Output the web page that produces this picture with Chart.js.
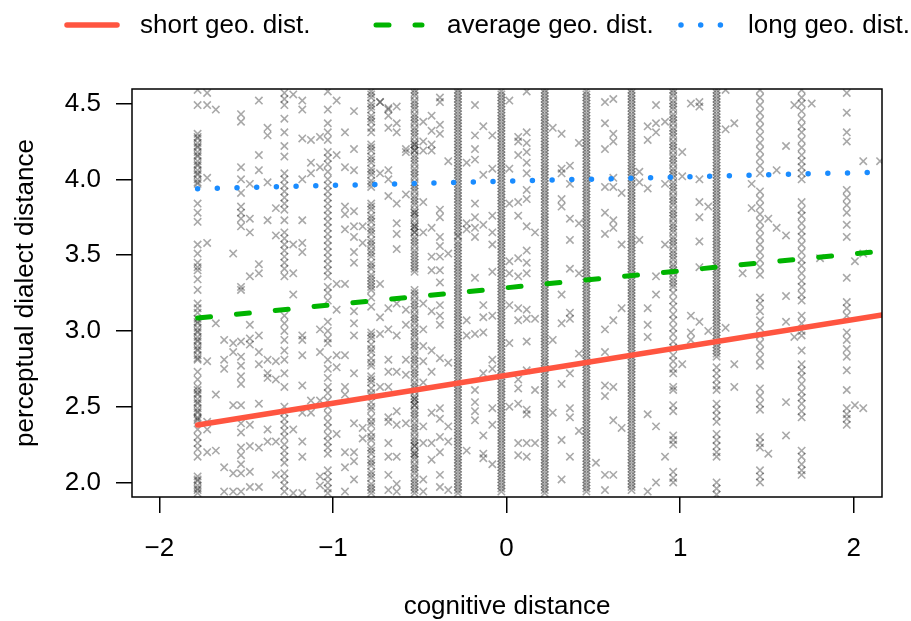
<!DOCTYPE html>
<html>
<head>
<meta charset="utf-8">
<script src="https://cdn.jsdelivr.net/npm/chart.js@4.4.1/dist/chart.umd.min.js"></script>
<style>
  html, body { margin: 0; padding: 0; background: #fff; }
  #wrap { width: 911px; height: 621px; }
</style>
</head>
<body>
<div id="wrap"><canvas id="scatterChart" width="911" height="621"></canvas></div>
<script>
// data
var seriesNames = ["short geo. dist.", "average geo. dist.", "long geo. dist."];
var xTicks = [-2, -1, 0, 1, 2];
var xTickLabels = ["\u22122", "\u22121", "0", "1", "2"];
var yTicks = [2.0, 2.5, 3.0, 3.5, 4.0, 4.5];
var yTickLabels = ["2.0", "2.5", "3.0", "3.5", "4.0", "4.5"];

// fitted lines, start and end of each
var lineX = [-1.78, 2.163];
var shortGeo = [2.379, 3.105];
var averageGeo = [3.085, 3.527];
var longGeo = [3.938, 4.048];

// observations stacked at the discrete cognitive distance values
var columnX = [-1.78, -1.53, -1.28, -1.03, -0.78, -0.53, -0.28, -0.03, 0.22, 0.46, 0.72, 0.96, 1.21, 1.46, 1.70, 1.96];
var columnY = [
  [4.59, 4.49, 4.30, 4.27, 4.24, 4.21, 4.18, 4.15, 4.12, 4.09, 4.06, 4.03, 4.00, 3.97, 3.84, 3.78, 3.72, 3.57, 3.51, 3.45, 3.42, 3.40, 3.34, 3.27, 3.18, 3.15, 3.12, 3.08, 3.05, 3.02, 2.99, 2.96, 2.93, 2.90, 2.87, 2.84, 2.81, 2.73, 2.68, 2.63, 2.61, 2.58, 2.55, 2.52, 2.49, 2.46, 2.43, 2.41, 2.35, 2.30, 2.26, 2.22, 2.17, 2.04, 2.01, 1.98, 1.95, 1.93],
  [4.43, 4.38, 4.08, 4.00, 3.91, 3.82, 3.78, 3.74, 3.69, 3.29, 3.27, 2.93, 2.83, 2.77, 2.70, 2.65, 2.51, 2.39, 2.33, 2.23, 2.18, 2.12, 2.06, 1.94],
  [4.57, 4.53, 4.49, 4.40, 4.31, 4.22, 4.15, 4.04, 4.00, 3.96, 3.92, 3.88, 3.84, 3.80, 3.73, 3.65, 3.61, 3.57, 3.53, 3.49, 3.45, 3.41, 3.36, 3.10, 3.05, 3.00, 2.94, 2.87, 2.81, 2.72, 2.63, 2.50, 2.46, 2.42, 2.38, 2.34, 2.30, 2.25, 2.21, 2.17, 2.13, 2.06, 2.02, 1.98, 1.94],
  [4.58, 4.46, 4.37, 4.31, 4.26, 4.18, 4.14, 4.10, 4.05, 4.00, 3.96, 3.92, 3.88, 3.84, 3.80, 3.76, 3.72, 3.68, 3.64, 3.60, 3.56, 3.52, 3.48, 3.44, 3.40, 3.36, 3.29, 3.25, 3.20, 3.06, 3.00, 2.95, 2.92, 2.81, 2.75, 2.69, 2.63, 2.59, 2.54, 2.50, 2.45, 2.40, 2.36, 2.31, 2.27, 2.23, 2.19, 2.08, 2.04, 2.00, 1.96, 1.93],
  [4.58, 4.54, 4.50, 4.46, 4.42, 4.38, 4.34, 4.31, 4.23, 4.19, 4.15, 4.11, 4.07, 4.03, 3.99, 3.95, 3.84, 3.80, 3.76, 3.72, 3.68, 3.64, 3.60, 3.56, 3.53, 3.49, 3.45, 3.41, 3.37, 3.33, 3.29, 3.27, 3.22, 3.16, 2.99, 2.95, 2.91, 2.86, 2.82, 2.77, 2.70, 2.66, 2.62, 2.57, 2.53, 2.48, 2.43, 2.38, 2.33, 2.28, 2.23, 2.19, 2.15, 2.11, 2.07, 2.03, 1.99, 1.95, 1.93],
  [4.59, 4.55, 4.50, 4.46, 4.41, 4.37, 4.32, 4.28, 4.23, 4.23, 4.19, 4.19, 4.14, 4.10, 4.05, 4.01, 3.96, 3.92, 3.87, 3.83, 3.78, 3.78, 3.74, 3.69, 3.69, 3.65, 3.65, 3.60, 3.56, 3.51, 3.47, 3.43, 3.39, 3.27, 3.23, 3.18, 3.14, 3.09, 3.05, 3.00, 2.96, 2.91, 2.87, 2.82, 2.78, 2.73, 2.69, 2.64, 2.60, 2.55, 2.55, 2.51, 2.51, 2.46, 2.42, 2.37, 2.33, 2.28, 2.24, 2.24, 2.19, 2.19, 2.15, 2.10, 2.06, 2.01, 1.97, 1.93],
  [4.59, 4.55, 4.51, 4.47, 4.45, 4.43, 4.39, 4.35, 4.31, 4.27, 4.25, 4.23, 4.19, 4.15, 4.11, 4.07, 4.03, 3.99, 3.95, 3.91, 3.87, 3.83, 3.79, 3.77, 3.75, 3.71, 3.67, 3.63, 3.62, 3.59, 3.55, 3.51, 3.47, 3.43, 3.41, 3.39, 3.35, 3.31, 3.27, 3.23, 3.21, 3.19, 3.15, 3.11, 3.07, 3.03, 2.99, 2.97, 2.95, 2.91, 2.87, 2.83, 2.79, 2.75, 2.71, 2.67, 2.65, 2.63, 2.59, 2.55, 2.51, 2.47, 2.45, 2.43, 2.39, 2.35, 2.31, 2.27, 2.25, 2.23, 2.19, 2.15, 2.11, 2.07, 2.05, 2.03, 1.99, 1.95, 1.93],
  [4.58, 4.54, 4.50, 4.46, 4.42, 4.38, 4.34, 4.30, 4.26, 4.22, 4.18, 4.14, 4.10, 4.06, 4.02, 3.98, 3.94, 3.90, 3.86, 3.82, 3.80, 3.78, 3.74, 3.70, 3.66, 3.62, 3.58, 3.54, 3.50, 3.46, 3.42, 3.38, 3.34, 3.30, 3.26, 3.22, 3.18, 3.14, 3.10, 3.06, 3.02, 2.98, 2.94, 2.90, 2.86, 2.82, 2.78, 2.74, 2.70, 2.66, 2.62, 2.58, 2.54, 2.50, 2.46, 2.42, 2.38, 2.34, 2.30, 2.26, 2.22, 2.18, 2.14, 2.10, 2.06, 2.02, 1.98, 1.94],
  [4.59, 4.55, 4.51, 4.47, 4.43, 4.39, 4.35, 4.33, 4.31, 4.27, 4.25, 4.23, 4.19, 4.17, 4.15, 4.11, 4.07, 4.03, 3.99, 3.95, 3.91, 3.87, 3.83, 3.79, 3.75, 3.71, 3.67, 3.63, 3.59, 3.55, 3.51, 3.49, 3.47, 3.43, 3.41, 3.39, 3.35, 3.33, 3.31, 3.27, 3.23, 3.19, 3.15, 3.11, 3.07, 3.03, 2.99, 2.95, 2.91, 2.87, 2.83, 2.79, 2.75, 2.71, 2.67, 2.63, 2.59, 2.55, 2.51, 2.47, 2.43, 2.39, 2.35, 2.31, 2.27, 2.23, 2.19, 2.15, 2.11, 2.07, 2.03, 1.99, 1.95],
  [4.58, 4.54, 4.50, 4.46, 4.42, 4.38, 4.34, 4.30, 4.26, 4.22, 4.18, 4.14, 4.10, 4.06, 4.02, 3.98, 3.94, 3.90, 3.86, 3.82, 3.78, 3.74, 3.70, 3.66, 3.62, 3.58, 3.54, 3.50, 3.46, 3.42, 3.38, 3.34, 3.30, 3.26, 3.22, 3.18, 3.14, 3.10, 3.06, 3.02, 2.98, 2.94, 2.90, 2.86, 2.82, 2.78, 2.74, 2.70, 2.66, 2.62, 2.58, 2.54, 2.50, 2.46, 2.42, 2.38, 2.34, 2.30, 2.26, 2.22, 2.18, 2.14, 2.10, 2.06, 2.02, 1.98, 1.94],
  [4.59, 4.55, 4.51, 4.47, 4.43, 4.39, 4.35, 4.31, 4.27, 4.23, 4.19, 4.15, 4.11, 4.07, 4.03, 3.99, 3.95, 3.91, 3.87, 3.83, 3.79, 3.75, 3.71, 3.67, 3.63, 3.59, 3.55, 3.51, 3.47, 3.43, 3.39, 3.35, 3.31, 3.27, 3.23, 3.19, 3.15, 3.11, 3.07, 3.03, 2.99, 2.95, 2.91, 2.87, 2.83, 2.79, 2.75, 2.71, 2.67, 2.63, 2.59, 2.55, 2.51, 2.47, 2.43, 2.39, 2.35, 2.31, 2.27, 2.23, 2.19, 2.15, 2.11, 2.07, 2.03, 1.99, 1.95],
  [4.59, 4.55, 4.50, 4.46, 4.41, 4.37, 4.32, 4.28, 4.23, 4.19, 4.14, 4.10, 4.05, 4.01, 3.96, 3.92, 3.87, 3.83, 3.78, 3.74, 3.69, 3.65, 3.60, 3.56, 3.51, 3.47, 3.42, 3.38, 3.33, 3.29, 3.25, 3.20, 3.16, 3.11, 3.07, 3.02, 2.98, 2.93, 2.89, 2.84, 2.80, 2.75, 2.72, 2.63, 2.61, 2.51, 2.47, 2.31, 2.28, 2.25, 2.07, 2.03, 2.00],
  [4.59, 4.55, 4.51, 4.47, 4.43, 4.39, 4.35, 4.31, 4.27, 4.25, 4.23, 4.19, 4.15, 4.13, 4.11, 4.07, 4.03, 3.99, 3.97, 3.95, 3.91, 3.89, 3.87, 3.83, 3.79, 3.75, 3.71, 3.67, 3.63, 3.59, 3.55, 3.51, 3.47, 3.43, 3.39, 3.35, 3.31, 3.27, 3.23, 3.19, 3.15, 3.11, 3.07, 3.03, 2.99, 2.95, 2.91, 2.87, 2.83, 2.76, 2.72, 2.68, 2.64, 2.61, 2.52, 2.48, 2.44, 2.40, 2.32, 2.28, 2.24, 2.20, 2.17, 2.00, 1.96, 1.92],
  [4.59, 4.54, 4.49, 4.44, 4.39, 4.34, 4.29, 4.24, 4.19, 4.14, 4.09, 4.04, 3.92, 3.87, 3.82, 3.77, 3.72, 3.67, 3.62, 3.57, 3.52, 3.47, 3.42, 3.37, 3.22, 3.18, 3.13, 3.07, 3.02, 2.97, 2.92, 2.87, 2.82, 2.77, 2.62, 2.57, 2.52, 2.48, 2.30, 2.26, 2.23, 2.08, 2.04, 2.00],
  [4.59, 4.54, 4.50, 4.45, 4.40, 4.35, 4.31, 4.26, 4.21, 4.16, 4.12, 4.08, 4.04, 4.00, 3.85, 3.80, 3.76, 3.71, 3.66, 3.62, 3.57, 3.52, 3.47, 3.43, 3.38, 3.33, 3.29, 3.24, 3.20, 3.10, 3.05, 3.00, 2.97, 2.87, 2.78, 2.74, 2.70, 2.65, 2.60, 2.56, 2.52, 2.47, 2.43, 2.21, 2.17, 2.12, 2.08, 2.05],
  [4.57, 4.44, 4.31, 4.25, 3.93, 3.88, 3.83, 3.78, 3.70, 3.62, 3.35, 3.19, 3.15, 3.10, 2.99, 2.94, 2.88, 2.83, 2.74, 2.61, 2.49, 2.45, 2.42, 2.38]
];

// further observations in the crowded columns, same order as columnX
var extraColumnY = [
  [4.28, 4.22, 4.16, 4.10, 4.04, 3.98, 3.06, 3.00, 2.94, 2.88, 2.82, 2.59, 2.53, 2.47, 2.42, 2.02, 1.96],
  [],
  [],
  [],
  [4.56, 4.48, 4.40, 4.21, 4.13, 4.05, 3.97, 3.82, 3.74, 3.66, 3.58, 3.51, 3.43, 3.35, 3.31, 2.97, 2.88, 2.79, 2.68, 2.59, 2.50, 2.40, 2.30, 2.21, 2.13, 2.05, 1.97],
  [4.57, 4.52, 4.48, 4.43, 4.39, 4.34, 4.30, 4.25, 4.21, 4.16, 4.12, 4.07, 4.03, 3.98, 3.94, 3.89, 3.85, 3.80, 3.76, 3.71, 3.67, 3.62, 3.58, 3.53, 3.49, 3.45, 3.41, 3.25, 3.20, 3.16, 3.11, 3.07, 3.02, 2.98, 2.93, 2.89, 2.84, 2.80, 2.75, 2.71, 2.66, 2.62, 2.57, 2.53, 2.48, 2.44, 2.39, 2.35, 2.30, 2.26, 2.21, 2.17, 2.12, 2.08, 2.03, 1.99, 1.95],
  [4.57, 4.53, 4.49, 4.41, 4.37, 4.33, 4.29, 4.21, 4.17, 4.13, 4.09, 4.05, 4.01, 3.97, 3.93, 3.89, 3.85, 3.81, 3.73, 3.69, 3.65, 3.57, 3.53, 3.49, 3.45, 3.37, 3.33, 3.29, 3.25, 3.17, 3.13, 3.09, 3.05, 3.01, 2.93, 2.89, 2.85, 2.81, 2.77, 2.73, 2.69, 2.61, 2.57, 2.53, 2.49, 2.41, 2.37, 2.33, 2.29, 2.21, 2.17, 2.13, 2.09, 2.01, 1.97],
  [4.56, 4.52, 4.48, 4.44, 4.40, 4.36, 4.32, 4.28, 4.24, 4.20, 4.16, 4.12, 4.08, 4.04, 4.00, 3.96, 3.92, 3.88, 3.84, 3.76, 3.72, 3.68, 3.64, 3.60, 3.56, 3.52, 3.48, 3.44, 3.40, 3.36, 3.32, 3.28, 3.24, 3.20, 3.16, 3.12, 3.08, 3.04, 3.00, 2.96, 2.92, 2.88, 2.84, 2.80, 2.76, 2.72, 2.68, 2.64, 2.60, 2.56, 2.52, 2.48, 2.44, 2.40, 2.36, 2.32, 2.28, 2.24, 2.20, 2.16, 2.12, 2.08, 2.04, 2.00, 1.96],
  [4.57, 4.53, 4.49, 4.45, 4.41, 4.37, 4.29, 4.21, 4.13, 4.09, 4.05, 4.01, 3.97, 3.93, 3.89, 3.85, 3.81, 3.77, 3.73, 3.69, 3.65, 3.61, 3.57, 3.53, 3.45, 3.37, 3.29, 3.25, 3.21, 3.17, 3.13, 3.09, 3.05, 3.01, 2.97, 2.93, 2.89, 2.85, 2.81, 2.77, 2.73, 2.69, 2.65, 2.61, 2.57, 2.53, 2.49, 2.45, 2.41, 2.37, 2.33, 2.29, 2.25, 2.21, 2.17, 2.13, 2.09, 2.05, 2.01, 1.97, 1.93],
  [4.56, 4.52, 4.48, 4.44, 4.40, 4.36, 4.32, 4.28, 4.24, 4.20, 4.16, 4.12, 4.08, 4.04, 4.00, 3.96, 3.92, 3.88, 3.84, 3.80, 3.76, 3.72, 3.68, 3.64, 3.60, 3.56, 3.52, 3.48, 3.44, 3.40, 3.36, 3.32, 3.28, 3.24, 3.20, 3.16, 3.12, 3.08, 3.04, 3.00, 2.96, 2.92, 2.88, 2.84, 2.80, 2.76, 2.72, 2.68, 2.64, 2.60, 2.56, 2.52, 2.48, 2.44, 2.40, 2.36, 2.32, 2.28, 2.24, 2.20, 2.16, 2.12, 2.08, 2.04, 2.00, 1.96],
  [4.57, 4.53, 4.49, 4.45, 4.41, 4.37, 4.33, 4.29, 4.25, 4.21, 4.17, 4.13, 4.09, 4.05, 4.01, 3.97, 3.93, 3.89, 3.85, 3.81, 3.77, 3.73, 3.69, 3.65, 3.61, 3.57, 3.53, 3.49, 3.45, 3.41, 3.37, 3.33, 3.29, 3.25, 3.21, 3.17, 3.13, 3.09, 3.05, 3.01, 2.97, 2.93, 2.89, 2.85, 2.81, 2.77, 2.73, 2.69, 2.65, 2.61, 2.57, 2.53, 2.49, 2.45, 2.41, 2.37, 2.33, 2.29, 2.25, 2.21, 2.17, 2.13, 2.09, 2.05, 2.01, 1.97],
  [4.57, 4.52, 4.48, 4.43, 4.39, 4.34, 4.30, 4.25, 4.21, 4.16, 4.12, 4.07, 4.03, 3.98, 3.94, 3.89, 3.85, 3.80, 3.76, 3.71, 3.67, 3.62, 3.58, 3.53, 3.49, 3.44, 3.40, 3.35, 3.31],
  [4.57, 4.53, 4.49, 4.45, 4.41, 4.37, 4.33, 4.29, 4.21, 4.17, 4.09, 4.05, 4.01, 3.93, 3.85, 3.81, 3.77, 3.73, 3.69, 3.65, 3.61, 3.57, 3.53, 3.49, 3.45, 3.41, 3.37, 3.33, 3.29, 3.25, 3.21, 3.17, 3.13, 3.09, 3.05, 3.01, 2.97, 2.93, 2.89, 2.85],
  [],
  [],
  []
];

// observations lying between the columns
var loosePoints = [
  [-1.725, 4.57], [-1.725, 4.49], [-1.675, 4.46], [-1.427, 4.52], [-1.377, 4.34], [-1.377, 4.29], [-1.229, 4.56], [-1.177, 4.52],
  [-1.177, 4.46], [-1.177, 4.27], [-1.127, 4.26], [-1.075, 4.28], [-0.979, 4.52], [-0.979, 4.16], [-0.931, 4.31], [-0.879, 4.45],
  [-0.879, 4.20], [-0.879, 4.06], [-1.725, 4.01], [-1.427, 4.16], [-1.427, 4.06], [-1.377, 3.98], [-1.479, 3.97], [-1.127, 4.11],
  [-1.127, 4.04], [-1.075, 4.08], [-1.177, 4.00], [-0.931, 4.08], [-0.729, 4.51], [-0.729, 4.04], [-0.681, 4.46], [-0.681, 4.34],
  [-0.681, 4.06], [-0.681, 4.00], [-0.681, 3.89], [-1.725, 3.58], [-1.575, 3.51], [-1.479, 3.74], [-1.479, 3.65], [-1.479, 3.36],
  [-1.427, 3.44], [-1.427, 3.38], [-1.377, 3.73], [-1.329, 3.81], [-1.329, 3.63], [-1.229, 3.57], [-1.229, 3.38], [-1.177, 3.73],
  [-1.177, 3.58], [-1.177, 3.52], [-0.979, 3.31], [-0.931, 3.82], [-0.931, 3.77], [-0.931, 3.67], [-0.931, 3.31], [-0.879, 3.79],
  [-0.879, 3.69], [-0.879, 3.62], [-0.879, 3.52], [-0.879, 3.45], [-0.829, 3.69], [-0.829, 3.58], [-0.729, 3.31],
  [-1.725, 2.80], [-1.725, 2.40], [-1.725, 2.35], [-1.725, 2.20], [-1.675, 3.05], [-1.675, 2.58], [-1.675, 2.21], [-1.627, 2.94],
  [-1.627, 2.81], [-1.627, 2.75], [-1.627, 2.10], [-1.627, 1.94], [-1.575, 2.92], [-1.575, 2.86], [-1.575, 2.51], [-1.575, 2.06],
  [-1.575, 1.94], [-1.479, 3.04], [-1.479, 2.95], [-1.479, 2.91], [-1.479, 2.38], [-1.479, 2.24], [-1.479, 2.07], [-1.479, 1.97],
  [-1.427, 2.97], [-1.427, 2.86], [-1.427, 2.78], [-1.427, 2.52], [-1.427, 2.23], [-1.427, 1.97], [-1.377, 2.81], [-1.377, 2.72],
  [-1.377, 2.69], [-1.377, 2.35], [-1.377, 2.27], [-1.329, 2.80], [-1.329, 2.68], [-1.329, 2.27], [-1.329, 2.05], [-1.229, 3.24],
  [-1.229, 2.35], [-1.229, 1.93], [-1.177, 2.97], [-1.177, 2.94], [-1.177, 2.84], [-1.177, 2.64], [-1.177, 2.46], [-1.177, 2.27],
  [-1.177, 2.17], [-1.177, 1.93], [-1.127, 2.54], [-1.127, 2.46], [-1.075, 3.01], [-1.075, 2.86], [-1.075, 2.54], [-1.075, 2.04],
  [-1.075, 1.98], [-0.979, 3.14], [-0.979, 2.84], [-0.979, 2.76], [-0.979, 2.32], [-0.931, 2.84], [-0.931, 2.63], [-0.931, 2.58],
  [-0.931, 2.20], [-0.931, 2.10], [-0.931, 1.94], [-0.879, 3.13], [-0.879, 3.05], [-0.879, 2.97], [-0.879, 2.72], [-0.879, 2.39],
  [-0.879, 2.20], [-0.879, 2.14], [-0.879, 2.02], [-0.829, 2.36], [-0.829, 2.29], [-0.729, 3.09], [-0.729, 2.98], [-0.729, 2.63],
  [-0.681, 2.81],
  [-0.729, 4.51], [-0.681, 4.47], [-0.681, 4.42], [-0.633, 4.48], [-0.633, 4.37], [-0.633, 4.31], [-0.580, 4.20], [-0.580, 4.18],
  [-0.480, 4.38], [-0.480, 4.25], [-0.480, 4.19], [-0.432, 4.42], [-0.432, 4.32], [-0.432, 4.23], [-0.432, 4.19], [-0.384, 4.54],
  [-0.384, 4.51], [-0.384, 4.36], [-0.384, 4.30], [-0.336, 4.12], [-0.230, 4.11], [-0.182, 4.49], [-0.182, 4.29], [-0.182, 4.20],
  [-0.182, 4.13], [-0.134, 4.35], [-0.134, 4.03], [-0.082, 4.29], [-0.082, 4.07], [0.016, 4.52], [0.016, 4.07], [0.067, 4.28],
  [0.067, 4.25], [0.067, 4.16], [0.116, 4.58], [0.116, 4.31], [0.116, 4.24], [0.116, 4.18], [0.116, 4.11], [0.116, 4.04],
  [0.116, 3.93], [0.116, 3.87], [0.266, 4.34], [0.317, 4.30], [0.317, 4.07], [0.317, 4.04], [0.365, 4.09], [0.365, 3.97],
  [0.417, 4.24], [0.567, 4.51], [0.567, 4.37], [0.567, 4.20], [0.615, 4.53], [0.615, 4.30], [0.615, 4.25], [0.615, 4.01],
  [0.615, 3.95], [-0.633, 3.84], [-0.633, 3.71], [-0.633, 3.64], [-0.633, 3.54], [-0.580, 3.90], [-0.480, 3.85], [-0.480, 3.65],
  [-0.432, 3.68], [-0.432, 3.49], [-0.432, 3.40], [-0.384, 3.80], [-0.384, 3.75], [-0.384, 3.62], [-0.384, 3.56], [-0.384, 3.49],
  [-0.384, 3.40], [-0.384, 3.32], [-0.336, 3.51], [-0.230, 3.71], [-0.230, 3.67], [-0.182, 3.84], [-0.182, 3.75], [-0.182, 3.68],
  [-0.182, 3.62], [-0.182, 3.35], [-0.134, 3.70], [-0.082, 3.76], [-0.082, 3.65], [-0.082, 3.57], [-0.082, 3.39], [0.016, 3.84],
  [0.016, 3.46], [0.016, 3.38], [0.067, 3.85], [0.067, 3.76], [0.067, 3.48], [0.067, 3.36], [0.116, 3.69], [0.116, 3.53],
  [0.116, 3.45], [0.116, 3.38], [0.164, 3.65], [0.317, 3.87], [0.317, 3.82], [0.365, 3.74], [0.365, 3.60], [0.365, 3.41],
  [0.417, 3.71], [0.417, 3.38], [0.567, 3.95], [0.567, 3.78], [0.567, 3.64], [0.615, 3.73], [0.615, 3.68], [0.663, 3.91],
  [0.663, 3.57],
  [-0.681, 3.15], [-0.681, 3.01], [-0.681, 2.73], [-0.681, 2.63], [-0.681, 2.43], [-0.681, 2.40], [-0.681, 2.26], [-0.681, 2.17],
  [-0.681, 2.05], [-0.681, 1.95], [-0.633, 3.18], [-0.633, 2.97], [-0.633, 2.73], [-0.633, 2.47], [-0.633, 2.38], [-0.633, 2.17],
  [-0.633, 1.99], [-0.633, 1.94], [-0.580, 3.14], [-0.580, 3.04], [-0.580, 2.81], [-0.580, 2.71], [-0.580, 2.39], [-0.480, 3.18],
  [-0.480, 3.01], [-0.480, 2.90], [-0.480, 2.80], [-0.480, 2.66], [-0.480, 2.37], [-0.480, 2.26], [-0.480, 2.02], [-0.480, 1.94],
  [-0.432, 3.13], [-0.432, 2.87], [-0.432, 2.73], [-0.432, 2.46], [-0.432, 2.26], [-0.432, 2.15], [-0.384, 3.17], [-0.384, 3.10],
  [-0.384, 3.04], [-0.384, 2.82], [-0.384, 2.49], [-0.384, 2.42], [-0.384, 2.30], [-0.384, 2.20], [-0.384, 2.05], [-0.384, 1.97],
  [-0.336, 2.79], [-0.336, 2.37], [-0.336, 2.27], [-0.336, 1.95], [-0.230, 3.07], [-0.230, 2.97], [-0.230, 2.21], [-0.182, 2.98],
  [-0.182, 2.61], [-0.182, 2.53], [-0.182, 2.47], [-0.182, 2.41], [-0.134, 3.17], [-0.134, 3.09], [-0.134, 2.99], [-0.134, 2.72],
  [-0.134, 2.31], [-0.134, 2.19], [-0.134, 2.16], [-0.082, 3.10], [-0.082, 2.81], [-0.082, 2.75], [-0.082, 2.49], [-0.082, 2.38],
  [-0.082, 2.12], [0.016, 3.17], [0.016, 2.92], [0.016, 2.50], [0.067, 3.15], [0.067, 3.07], [0.067, 2.68], [0.067, 2.62],
  [0.067, 2.52], [0.067, 2.26], [0.067, 2.18], [0.116, 3.14], [0.116, 3.08], [0.116, 2.93], [0.116, 2.74], [0.116, 2.48],
  [0.116, 2.45], [0.116, 2.26], [0.116, 2.17], [0.164, 3.08], [0.164, 2.61], [0.164, 2.26], [0.266, 2.94], [0.266, 2.46],
  [0.317, 3.24], [0.317, 3.05], [0.317, 2.65], [0.317, 2.28], [0.317, 2.02], [0.365, 3.12], [0.365, 3.08], [0.365, 2.72],
  [0.365, 2.49], [0.365, 2.43], [0.365, 2.17], [0.417, 2.85], [0.417, 2.34], [0.515, 2.13], [0.567, 3.01], [0.567, 2.86],
  [0.567, 2.64], [0.567, 2.57], [0.567, 2.05], [0.567, 1.95], [0.615, 3.07], [0.615, 2.63], [0.615, 2.41], [0.615, 2.05],
  [0.663, 3.15], [0.663, 2.36],
  [0.765, 4.05], [0.765, 3.98], [0.765, 3.60], [0.813, 4.35], [0.813, 4.26], [0.813, 3.94], [0.861, 4.49], [0.861, 4.37],
  [0.861, 4.31], [0.861, 3.36], [0.913, 4.38], [0.913, 3.97], [0.913, 3.57], [1.012, 4.18], [1.012, 4.02], [1.062, 4.50],
  [1.111, 4.51], [1.111, 4.48], [1.111, 4.00], [1.111, 3.85], [1.111, 3.75], [1.111, 3.59], [1.111, 3.42], [1.162, 3.82],
  [1.262, 4.33], [1.262, 4.59], [1.312, 4.37], [1.360, 3.38], [1.412, 3.97], [1.412, 3.81], [1.508, 3.74], [1.556, 4.06],
  [1.556, 3.68], [1.610, 4.22], [1.610, 3.63], [1.658, 4.49], [1.758, 4.50], [1.806, 3.48], [2.007, 3.46], [2.055, 4.12],
  [2.055, 3.51], [2.152, 4.12],
  [0.813, 3.15], [0.813, 3.04], [0.813, 2.96], [0.813, 2.45], [0.813, 1.94], [0.861, 3.24], [0.861, 2.37], [0.861, 2.00],
  [0.913, 2.17], [1.012, 2.78], [1.062, 3.10], [1.062, 2.99], [1.062, 2.94], [1.111, 3.06], [1.162, 3.00], [1.262, 3.02],
  [1.312, 2.78], [1.312, 2.63], [1.508, 2.19], [1.610, 3.23], [1.610, 3.06], [1.610, 2.53], [1.610, 2.31], [1.658, 2.96],
  [2.007, 2.51], [2.055, 2.49]
];

var xMin = -2.158, xMax = 2.163;
var yMin = 1.904, yMax = 4.596;

var lineColors = ['#FF5540', '#00B400', '#1A8CFF'];

Chart.defaults.font.family = '"Liberation Sans", Arial, Helvetica, sans-serif';
Chart.defaults.font.size = 26;
Chart.defaults.color = '#000';

var points = [];
columnX.forEach(function (x, i) {
  columnY[i].concat(extraColumnY[i]).forEach(function (y) { points.push({ x: x, y: y }); });
});
loosePoints.forEach(function (p) { points.push({ x: p[0], y: p[1] }); });

function lineData(ys) {
  return lineX.map(function (x, i) { return { x: x, y: ys[i] }; });
}

var lineStyles = [
  { width: 5.5, dash: [] },
  { width: 5, dash: [13, 26] },
  { width: 5.5, dash: [0, 19.7] }
];

// R style box round the plot and the legend row at the top
var boxAndLegend = {
  id: 'boxAndLegend',
  afterDatasetsDraw: function (chart) {
    var a = chart.chartArea, ctx = chart.ctx;
    ctx.save();
    ctx.strokeStyle = '#000';
    ctx.lineWidth = 1.5;
    ctx.strokeRect(a.left, a.top, a.right - a.left, a.bottom - a.top);
    ctx.restore();
  },
  afterDraw: function (chart) {
    var ctx = chart.ctx;
    var spots = [[67, 117, 140], [376, 422, 447], [681, 722, 748]];
    ctx.save();
    for (var i = 0; i < 3; i++) {
      ctx.beginPath();
      ctx.strokeStyle = lineColors[i];
      ctx.lineWidth = lineStyles[i].width;
      ctx.lineCap = 'round';
      ctx.setLineDash(lineStyles[i].dash);
      ctx.moveTo(spots[i][0], 25);
      ctx.lineTo(spots[i][1], 25);
      ctx.stroke();
      ctx.setLineDash([]);
      ctx.fillStyle = '#000';
      ctx.font = '26px "Liberation Sans", Arial, sans-serif';
      ctx.textAlign = 'left';
      ctx.textBaseline = 'middle';
      ctx.fillText(seriesNames[i], spots[i][2], 26);
    }
    ctx.restore();
  }
};

var ctxS = document.getElementById('scatterChart').getContext('2d');
var myScatter = new Chart(ctxS, {
  type: 'scatter',
  data: {
    datasets: [
      {
        type: 'line', label: seriesNames[0], data: lineData(shortGeo),
        borderColor: lineColors[0], borderWidth: lineStyles[0].width, borderCapStyle: 'round',
        pointRadius: 0, fill: false, clip: 0, order: 0
      },
      {
        type: 'line', label: seriesNames[1], data: lineData(averageGeo),
        borderColor: lineColors[1], borderWidth: lineStyles[1].width, borderDash: lineStyles[1].dash,
        borderCapStyle: 'round', pointRadius: 0, fill: false, clip: 0, order: 0
      },
      {
        type: 'line', label: seriesNames[2], data: lineData(longGeo),
        borderColor: lineColors[2], borderWidth: lineStyles[2].width, borderDash: lineStyles[2].dash,
        borderCapStyle: 'round', pointRadius: 0, fill: false, clip: 0, order: 0
      },
      {
        label: 'ratings', data: points,
        pointStyle: 'crossRot', pointRadius: 5.2, borderWidth: 1.6,
        borderColor: 'rgba(0,0,0,0.34)', backgroundColor: 'rgba(0,0,0,0)',
        clip: 0, order: 5
      }
    ]
  },
  options: {
    responsive: false,
    animation: false,
    devicePixelRatio: 1,
    events: [],
    layout: { padding: { top: 89, right: 29, left: 0, bottom: 0 } },
    plugins: { legend: { display: false }, tooltip: { enabled: false } },
    scales: {
      x: {
        type: 'linear', min: xMin, max: xMax,
        afterBuildTicks: function (s) { s.ticks = xTicks.map(function (v) { return { value: v }; }); },
        afterFit: function (s) { s.height = 124; },
        grid: { drawOnChartArea: false, drawTicks: true, tickLength: 16, color: '#000', lineWidth: 1.5 },
        border: { display: false },
        ticks: {
          padding: 20, maxRotation: 0, autoSkip: false,
          callback: function (v, i) { return xTickLabels[i]; }
        },
        title: { display: true, text: 'cognitive distance', padding: { top: 0, bottom: -1 } }
      },
      y: {
        type: 'linear', min: yMin, max: yMax,
        afterBuildTicks: function (s) { s.ticks = yTicks.map(function (v) { return { value: v }; }); },
        afterFit: function (s) { s.width = 132; },
        grid: { drawOnChartArea: false, drawTicks: true, tickLength: 16, color: '#000', lineWidth: 1.5 },
        border: { display: false },
        ticks: {
          padding: 15, autoSkip: false,
          callback: function (v, i) { return yTickLabels[i]; }
        },
        title: { display: true, text: 'perceptual dialect distance', padding: { top: 10, bottom: 0 } }
      }
    }
  },
  plugins: [boxAndLegend]
});
</script>
</body>
</html>
